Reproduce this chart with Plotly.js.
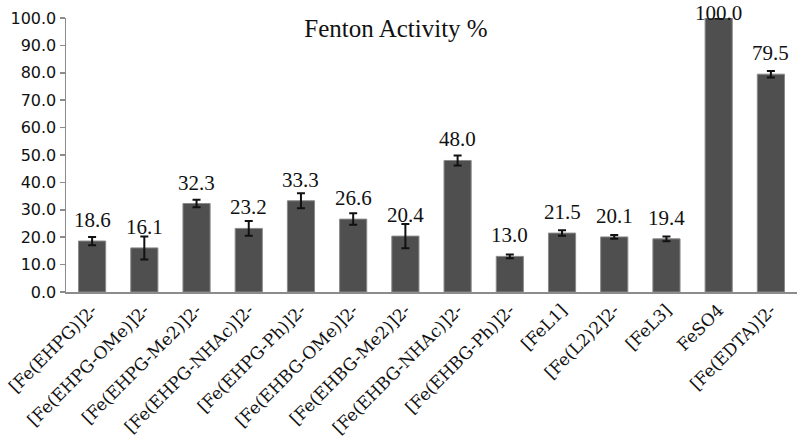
<!DOCTYPE html>
<html>
<head>
<meta charset="utf-8">
<script src="https://cdn.plot.ly/plotly-3.0.1.min.js"></script>
<style>html,body{margin:0;padding:0;background:#fff}#chart{width:800px;height:439px}</style>
</head>
<body>
<div id="chart"></div>
<script>
var categories = ["[Fe(EHPG)]2-", "[Fe(EHPG-OMe)]2-", "[Fe(EHPG-Me2)]2-", "[Fe(EHPG-NHAc)]2-", "[Fe(EHPG-Ph)]2-", "[Fe(EHBG-OMe)]2-", "[Fe(EHBG-Me2)]2-", "[Fe(EHBG-NHAc)]2-", "[Fe(EHBG-Ph)]2-", "[FeL1]", "[Fe(L2)2]2-", "[FeL3]", "FeSO4", "[Fe(EDTA)]2-"];
var values = [18.6, 16.1, 32.3, 23.2, 33.3, 26.6, 20.4, 48.0, 13.0, 21.5, 20.1, 19.4, 100.0, 79.5];
var errors = [1.5, 4.2, 1.4, 2.7, 2.7, 2.1, 4.4, 1.8, 0.7, 1.0, 0.7, 0.9, 0.2, 1.2];
var yTicks = [0, 10, 20, 30, 40, 50, 60, 70, 80, 90, 100];
</script>
<script>
var serif = 'Liberation Serif';
var yMax = 100;
var marginTop = 18;
var tickText = yTicks.map(function(v){ return v.toFixed(1); });
var trace = {
  type: 'bar',
  x: categories,
  y: values,
  marker: {color: '#4f4f4f', line: {color: '#8a8a8a', width: 1}},
  error_y: {type: 'data', array: errors, visible: true, color: '#111', thickness: 2, width: 4},
  hoverinfo: 'none'
};
var annotations = values.map(function(v, i){
  var atTop = v >= yMax;
  return {
    x: categories[i], y: v, xref: 'x', yref: 'y',
    text: v.toFixed(1), showarrow: false, borderpad: 0,
    yanchor: atTop ? 'top' : 'bottom', yshift: atTop ? marginTop : 8,
    font: {family: serif, size: 21, color: '#111'}
  };
});
var layout = {
  width: 800, height: 439,
  margin: {l: 66, r: 3, t: marginTop, b: 147, pad: 0},
  paper_bgcolor: '#fff', plot_bgcolor: '#fff',
  showlegend: false,
  bargap: 0.48,
  title: {
    text: 'Fenton Activity %',
    x: 396/800, xref: 'container', xanchor: 'center',
    y: 1 - 28/439, yref: 'container', yanchor: 'middle',
    font: {family: serif, size: 25, color: '#111'}
  },
  xaxis: {
    type: 'category',
    tickangle: -45,
    showline: true, linecolor: '#8c8c8c', linewidth: 1.5,
    ticks: '', showgrid: false, zeroline: false,
    tickfont: {family: 'DejaVu Serif', size: 17, color: '#111'}
  },
  yaxis: {
    range: [0, yMax],
    tickvals: yTicks, ticktext: tickText,
    showline: true, linecolor: '#8c8c8c', linewidth: 1.5,
    ticks: 'outside', ticklen: 5, tickcolor: '#8c8c8c', tickwidth: 1.5,
    showgrid: false, zeroline: false,
    tickfont: {family: 'DejaVu Sans', size: 16, color: '#111'}
  },
  annotations: annotations
};
Plotly.newPlot('chart', [trace], layout, {displayModeBar: false, staticPlot: true});
</script>
</body>
</html>
